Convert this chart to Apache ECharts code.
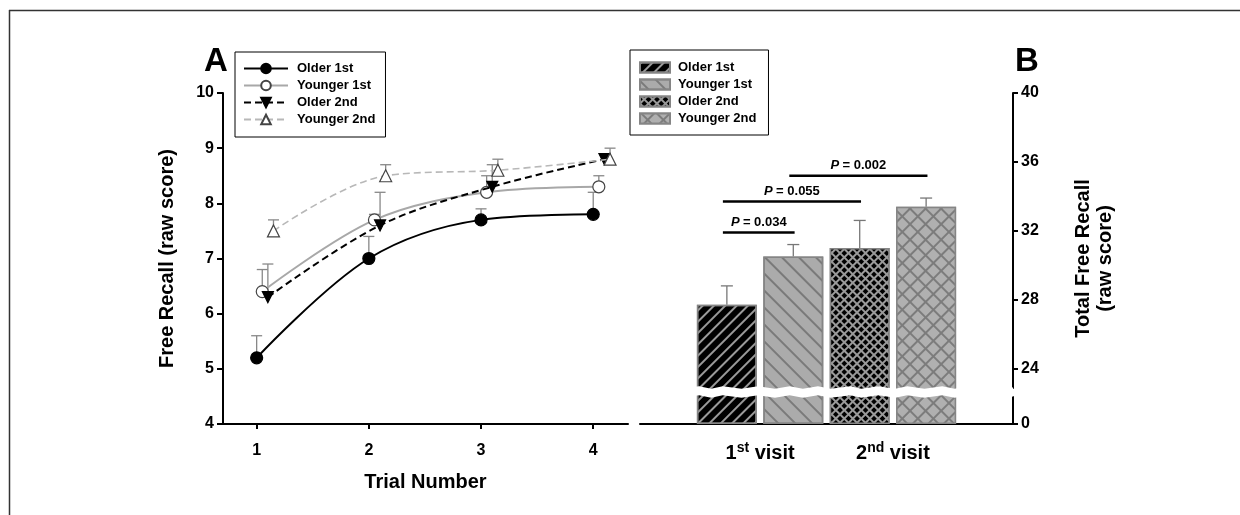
<!DOCTYPE html>
<html><head><meta charset="utf-8">
<script src="https://cdn.jsdelivr.net/npm/echarts@6/dist/echarts.min.js"></script>
<style>html,body{margin:0;padding:0;background:#fff}#c{width:1240px;height:515px}</style>
</head><body><div id="c"></div>
<script>
// ---------- data: panel A ----------
const trialTicks = [1, 2, 3, 4];
const lineNames = ['Older 1st', 'Younger 1st', 'Older 2nd', 'Younger 2nd'];
const olderFirst = [5.2, 7.0, 7.7, 7.8];
const olderFirstErrTop = [5.6, 7.4, 7.9, 8.2];
const youngerFirst = [6.4, 7.7, 8.2, 8.3];
const youngerFirstErrTop = [6.8, 7.8, 8.5, 8.5];
const olderSecond = [6.3, 7.6, 8.3, 8.8];
const olderSecondErrTop = [6.9, 8.2, 8.7, 8.9];
const youngerSecond = [7.5, 8.5, 8.6, 8.8];
const youngerSecondErrTop = [7.7, 8.7, 8.8, 9.0];
const yTicksA = [4, 5, 6, 7, 8, 9, 10];

// ---------- data: panel B ----------
const barNames = ['Older 1st', 'Younger 1st', 'Older 2nd', 'Younger 2nd'];
const barSlots = [1, 2, 3, 4];
const barValues = [27.7, 30.5, 31.0, 33.4];
const barErrTop = [28.8, 31.2, 32.6, 33.9];
const visitLabels = ['1st visit', '2nd visit'];
const visitSlots = [1.5, 3.5];
const pLabels = ['0.034', '0.055', '0.002'];
const pPairs = [[1, 2], [1, 3], [2, 4]];
const pLevels = [31.9, 33.7, 35.2];
const yTicksB = [0, 24, 28, 32, 36, 40];

// ---------- styling ----------
const FONT = 'Liberation Sans, Arial, sans-serif';
const jitter = [0, 0.05, 0.1, 0.15];
const lineStyles = [
  {color: '#000', type: 'solid', width: 2},
  {color: '#a8a8a8', type: 'solid', width: 2},
  {color: '#000', type: [7, 4], width: 2},
  {color: '#b8b8b8', type: [7, 4], width: 1.6}
];
const markerStyles = [
  {symbol: 'circle', size: 12, color: '#000', border: '#000'},
  {symbol: 'circle', size: 12, color: '#fff', border: '#444'},
  {symbol: 'triangle', size: 11, color: '#000', border: '#000', rotate: 180},
  {symbol: 'triangle', size: 12, color: '#fff', border: '#444'}
];
const lineData = [olderFirst, youngerFirst, olderSecond, youngerSecond];
const lineErr = [olderFirstErrTop, youngerFirstErrTop, olderSecondErrTop, youngerSecondErrTop];

const barStyles = [
  {color: '#000', decal: {symbol: 'rect', symbolSize: 1, dashArrayX: [1, 0], dashArrayY: [2, 6], rotation: -Math.PI / 4, color: '#9a9a9a'}},
  {color: '#ababab', decal: {symbol: 'rect', symbolSize: 1, dashArrayX: [1, 0], dashArrayY: [1.5, 10], rotation: Math.PI / 4, color: '#7a7a7a'}},
  {color: '#9a9a9a', decal: {symbol: 'rect', symbolSize: 1, dashArrayX: [4, 2], dashArrayY: [4, 2], rotation: Math.PI / 4, color: '#000'}},
  {color: '#7c7c7c', decal: {symbol: 'rect', symbolSize: 1, dashArrayX: [9, 1.5], dashArrayY: [9, 1.5], rotation: Math.PI / 4, color: '#b0b0b0'}}
];

function errorSeries(xs, base, tops, axisIdx, capHalf, color, z) {
  return {
    type: 'custom', xAxisIndex: axisIdx, yAxisIndex: axisIdx, z: z, silent: true,
    data: xs.map((x, i) => [x, base[i], tops[i]]),
    encode: {x: 0, y: [1, 2]},
    renderItem: function (params, api) {
      const p0 = api.coord([api.value(0), api.value(1)]);
      const p1 = api.coord([api.value(0), api.value(2)]);
      return {type: 'group', children: [
        {type: 'line', shape: {x1: p0[0], y1: p0[1], x2: p1[0], y2: p1[1]}, style: {stroke: color, lineWidth: 1.3}},
        {type: 'line', shape: {x1: p1[0] - capHalf, y1: p1[1], x2: p1[0] + capHalf, y2: p1[1]}, style: {stroke: color, lineWidth: 1.3}}
      ]};
    }
  };
}

const series = [];
lineNames.forEach((name, k) => {
  const xs = trialTicks.map(t => t + jitter[k]);
  series.push(errorSeries(xs, lineData[k], lineErr[k], 0, 5.5, '#888', 1));
});
lineNames.forEach((name, k) => {
  const xs = trialTicks.map(t => t + jitter[k]);
  const m = markerStyles[k];
  series.push({
    type: 'line', name: name, xAxisIndex: 0, yAxisIndex: 0, z: 3 + k,
    smooth: 0.35, data: xs.map((x, i) => [x, lineData[k][i]]),
    symbol: m.symbol, symbolSize: m.size, symbolRotate: m.rotate || 0,
    showAllSymbol: true,
    lineStyle: lineStyles[k],
    itemStyle: {color: m.color, borderColor: m.border, borderWidth: 1.2},
    emphasis: {disabled: true}
  });
});
barNames.forEach((name, k) => {
  series.push({
    type: 'bar', name: 'B:' + name, xAxisIndex: 1, yAxisIndex: 1, z: 2,
    barWidth: 60, barGap: '-100%', data: [[barSlots[k], barValues[k]]],
    itemStyle: Object.assign({borderColor: '#858585', borderWidth: 1.5}, barStyles[k]),
    emphasis: {disabled: true}
  });
});
series.push(errorSeries(barSlots, barValues, barErrTop, 1, 6, '#777', 1));
// significance bars
series.push({
  type: 'custom', xAxisIndex: 1, yAxisIndex: 1, z: 5, silent: true,
  data: pPairs.map((p, i) => [p[0] - 0.06, p[1] + 0.02, pLevels[i], pLabels[i]]),
  encode: {x: [0, 1], y: 2},
  renderItem: function (params, api) {
    const a = api.coord([api.value(0), api.value(2)]);
    const b = api.coord([api.value(1), api.value(2)]);
    return {type: 'group', children: [
      {type: 'line', shape: {x1: a[0], y1: a[1], x2: b[0], y2: a[1]}, style: {stroke: '#000', lineWidth: 2.5}},
      {type: 'text', x: (a[0] + b[0]) / 2, y: a[1] - 4, style: {
        text: '{i|P} {t|= ' + pLabels[params.dataIndex] + '}',
        rich: {i: {fontStyle: 'italic', fontWeight: 'bold', fontSize: 13, fontFamily: FONT},
               t: {fontWeight: 'bold', fontSize: 13, fontFamily: FONT}},
        align: 'center', verticalAlign: 'bottom', fill: '#000'}}
    ]};
  }
});

const boldLabel = {color: '#000', fontWeight: 'bold', fontFamily: FONT};

const option = {
  backgroundColor: '#fff',
  animation: false,
  title: [
    {text: 'A', left: 199, top: 40, textStyle: {fontSize: 33, fontWeight: 'bold', fontFamily: FONT, color: '#000'}},
    {text: 'B', left: 1010, top: 40, textStyle: {fontSize: 33, fontWeight: 'bold', fontFamily: FONT, color: '#000'}}
  ],
  legend: [
    {
      data: lineNames, orient: 'vertical', left: 235, top: 52,
      padding: [10, 10, 11, 8], itemGap: 4, itemWidth: 44, itemHeight: 12,
      borderColor: '#000', borderWidth: 1, backgroundColor: '#fff',
      textStyle: Object.assign({fontSize: 13, padding: [0, 0, 0, 4]}, boldLabel),
      selectedMode: false
    },
    {
      data: barNames.map(n => 'B:' + n), orient: 'vertical', left: 630, top: 50,
      padding: [11, 12, 10, 9], itemGap: 4, itemWidth: 30, itemHeight: 10, icon: 'rect',
      borderColor: '#000', borderWidth: 1, backgroundColor: '#fff',
      formatter: n => n.slice(2),
      textStyle: Object.assign({fontSize: 13, padding: [0, 0, 0, 3]}, boldLabel),
      selectedMode: false
    }
  ],
  grid: [
    {left: 223, right: 612, top: 93, bottom: 91},
    {left: 640, right: 227, top: 93, bottom: 91}
  ],
  xAxis: [
    {
      type: 'value', gridIndex: 0, min: 0.7, max: 4.31,
      name: 'Trial Number', nameLocation: 'middle', nameGap: 48,
      nameTextStyle: Object.assign({fontSize: 20}, boldLabel),
      axisLine: {onZero: false, lineStyle: {color: '#000', width: 2}},
      axisTick: {show: true, customValues: trialTicks, length: 5, lineStyle: {color: '#000', width: 2}},
      axisLabel: Object.assign({customValues: trialTicks, fontSize: 16, margin: 19}, boldLabel),
      splitLine: {show: false}
    },
    {
      type: 'value', gridIndex: 1, min: 0.5 - 0.808, max: 4.5 + 0.808,
      axisLine: {onZero: false, lineStyle: {color: '#000', width: 2}},
      axisTick: {show: false},
      axisLabel: Object.assign({
        customValues: visitSlots, margin: 17,
        formatter: function (v) {
          const lab = visitLabels[visitSlots.indexOf(v)] || '';
          const m = lab.match(/^(\d+)(st|nd|rd|th)(.*)$/);
          return m ? '{n|' + m[1] + '}{s|' + m[2] + '}{n|' + m[3] + '}' : lab;
        },
        rich: {
          n: {fontSize: 20, fontWeight: 'bold', fontFamily: FONT, color: '#000', lineHeight: 24},
          s: {fontSize: 14, fontWeight: 'bold', fontFamily: FONT, color: '#000', verticalAlign: 'top', lineHeight: 12}
        }
      }, boldLabel),
      splitLine: {show: false}
    }
  ],
  yAxis: [
    {
      type: 'value', gridIndex: 0, min: 4, max: 10, interval: 1,
      name: 'Free Recall (raw score)', nameLocation: 'middle', nameGap: 46,
      nameTextStyle: Object.assign({fontSize: 20}, boldLabel),
      axisLine: {show: true, onZero: false, lineStyle: {color: '#000', width: 2}},
      axisTick: {show: true, customValues: yTicksA, length: 6, lineStyle: {color: '#000', width: 2}},
      axisLabel: Object.assign({customValues: yTicksA, fontSize: 16, margin: 9}, boldLabel),
      splitLine: {show: false}
    },
    {
      type: 'value', gridIndex: 1, position: 'right', min: 0, max: 40, interval: 4,
      breaks: [{start: 1.6, end: 22.9, gap: 0.52}],
      breakArea: {show: true, itemStyle: {color: '#fff', borderColor: '#fff', borderWidth: 0, opacity: 1},
                  zigzagAmplitude: 1.2, zigzagMinSpan: 10, zigzagMaxSpan: 20, zigzagZ: 100, expandOnClick: false},
      name: 'Total Free Recall\n(raw score)', nameLocation: 'middle', nameGap: 59, nameRotate: 90,
      nameTextStyle: Object.assign({fontSize: 20, lineHeight: 22}, boldLabel),
      axisLine: {show: true, onZero: false, lineStyle: {color: '#000', width: 2}},
      axisTick: {show: true, customValues: yTicksB, length: 5, lineStyle: {color: '#000', width: 2}},
      axisLabel: Object.assign({customValues: yTicksB, fontSize: 16, margin: 8}, boldLabel),
      splitLine: {show: false}
    }
  ],
  graphic: [
    {type: 'line', shape: {x1: 9, y1: 10.5, x2: 1240, y2: 10.5}, style: {stroke: '#333', lineWidth: 1.5}, silent: true},
    {type: 'line', shape: {x1: 9.5, y1: 10, x2: 9.5, y2: 515}, style: {stroke: '#333', lineWidth: 1.5}, silent: true}
  ],
  series: series
};
const chart = echarts.init(document.getElementById('c'), null, {renderer: 'canvas'});
chart.setOption(option);
</script>
</body></html>
